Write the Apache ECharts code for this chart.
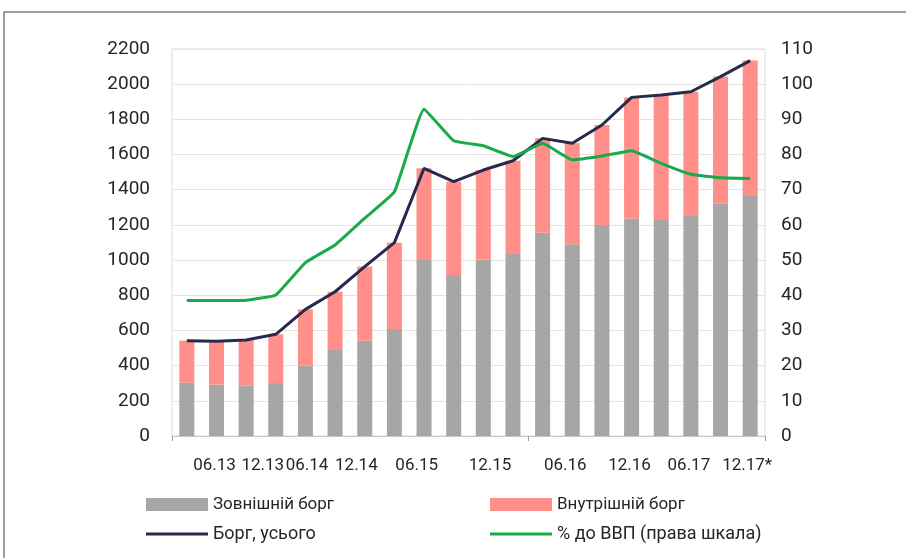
<!DOCTYPE html>
<html>
<head>
<meta charset="utf-8">
<script src="https://cdn.jsdelivr.net/npm/echarts@6/dist/echarts.min.js"></script>
<style>
html,body{margin:0;padding:0;background:#fff;}
#c{width:906px;height:558px;}
</style>
</head>
<body>
<div id="c"></div>
<script>
const categories = ['03.13','06.13','09.13','12.13','03.14','06.14','09.14','12.14','03.15','06.15',
  '09.15','12.15','03.16','06.16','09.16','12.16','03.17','06.17','09.17','12.17*'];
const externalDebt = [303, 292, 288, 301, 400, 489, 542, 608, 1000, 915, 1004, 1035, 1156, 1090, 1200, 1237, 1228, 1251, 1323, 1364];
const internalDebt = [239, 246, 258, 277, 320, 331, 421, 491, 522, 531, 508, 530, 536, 574, 568, 688, 711, 706, 720, 770];
const totalDebt = [542, 538, 546, 578, 720, 820, 963, 1099, 1522, 1446, 1512, 1565, 1692, 1664, 1768, 1925, 1939, 1957, 2043, 2134];
const gdpShare = [38.5, 38.5, 38.6, 40.1, 49.3, 54.3, 61.9, 69.4, 92.9, 83.9, 82.5, 79.4, 83.2, 78.5, 79.6, 81.1, 77.5, 74.4, 73.4, 73.2];
const leftTicks = {min: 0, max: 2200, interval: 200};
const rightTicks = {min: 0, max: 110, interval: 10};
const names = ['Зовнішній борг', 'Внутрішній борг', 'Борг, усього', '% до ВВП (права шкала)'];

const FONT = 'Roboto';
const txt = '#262626';
// visual shift of the crowded date labels (as laid out in the original)
const labelShift = [-2, -13, -28, -38, -37, -23, -7, -2, -2, -3];
const rich = {};
labelShift.forEach(function (s, k) {
  rich['s' + k] = {fontFamily: FONT, fontSize: 17, color: txt,
    padding: s < 0 ? [0, -2 * s, 0, 0] : [0, 0, 0, 2 * s]};
});

const chart = echarts.init(document.getElementById('c'));
function leg(name, left, top, h, fs) {
  return {
    data: [name], left: left, top: top, itemWidth: 62, itemHeight: h, icon: 'rect',
    itemGap: 0, selectedMode: false,
    textStyle: {fontFamily: FONT, fontSize: fs, color: txt}
  };
}
chart.setOption({
  animation: false,
  backgroundColor: '#fff',
  graphic: [{type: 'rect', shape: {x: 4, y: 12, width: 1200, height: 1200},
    style: {fill: 'none', stroke: '#7f7f7f', lineWidth: 1.5}}],
  grid: {left: 172, right: 141, top: 49, bottom: 122, show: true, borderColor: '#dcdcdc', borderWidth: 1},
  legend: [
    leg(names[0], 141, 491, 13, 17),
    leg(names[1], 485, 491, 13, 17),
    leg(names[2], 141, 520, 3, 18),
    leg(names[3], 485, 520, 3, 18)
  ],
  xAxis: {
    type: 'category', data: categories,
    axisLine: {lineStyle: {color: '#c8c8c8'}},
    axisTick: {show: true, interval: function (i) { return i % 12 === 0; }, length: 5, lineStyle: {color: '#a0a0a0'}},
    axisLabel: {
      interval: function (i) { return i % 2 === 1; },
      fontFamily: FONT, fontSize: 17, color: txt, margin: 21,
      formatter: function (v, i) { return '{s' + ((i - 1) / 2) + '|' + v + '}'; },
      rich: rich
    },
    splitLine: {show: false}
  },
  yAxis: [
    {type: 'value', min: leftTicks.min, max: leftTicks.max, interval: leftTicks.interval,
     axisLine: {show: false}, axisTick: {show: false},
     axisLabel: {fontFamily: FONT, fontSize: 19, color: txt, margin: 22, formatter: function (v) { return String(v); }},
     splitLine: {lineStyle: {color: '#e4e4e4', width: 1}}},
    {type: 'value', min: rightTicks.min, max: rightTicks.max, interval: rightTicks.interval,
     axisLine: {show: false}, axisTick: {show: false},
     axisLabel: {fontFamily: FONT, fontSize: 19, color: txt, margin: 16, formatter: function (v) { return String(v); }},
     splitLine: {show: false}}
  ],
  series: [
    {name: names[0], type: 'bar', stack: 'debt', data: externalDebt, barWidth: 15,
     itemStyle: {color: '#a6a6a6'}},
    {name: names[1], type: 'bar', stack: 'debt', data: internalDebt, barWidth: 15,
     itemStyle: {color: '#ff8f88'}},
    {name: names[2], type: 'line', data: totalDebt, showSymbol: false, symbol: 'none',
     lineStyle: {color: '#262a4d', width: 3}, itemStyle: {color: '#262a4d'}, z: 5},
    {name: names[3], type: 'line', yAxisIndex: 1, data: gdpShare, showSymbol: false, symbol: 'none', smooth: 0.1,
     lineStyle: {color: '#1aa94b', width: 3}, itemStyle: {color: '#1aa94b'}, z: 6}
  ]
});
</script>
</body>
</html>
